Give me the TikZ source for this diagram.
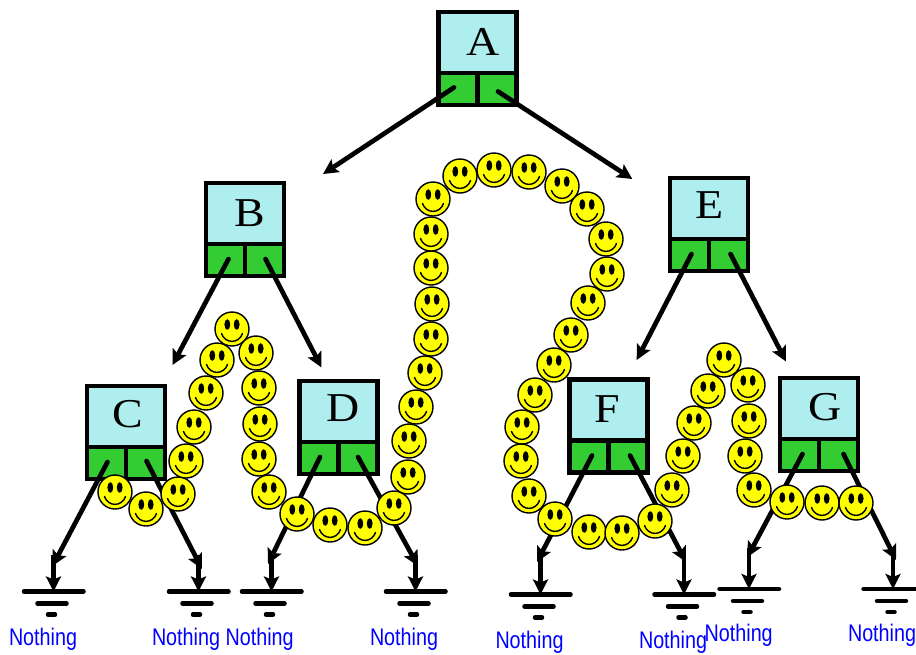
\documentclass[tikz,border=0pt]{standalone}
\usepackage{graphicx}
\usepackage{fontspec}
\setmainfont{Liberation Serif}
\newfontfamily\labelfont{Liberation Sans}
\usetikzlibrary{arrows.meta}
\definecolor{headcyan}{HTML}{AFEEEE}
\definecolor{cellgreen}{HTML}{33CC33}
\definecolor{smileyyellow}{HTML}{FFFF00}
\tikzset{
  headbox/.style={draw=black,line width=4.5pt,fill=headcyan,minimum width=78pt,minimum height=61pt,inner sep=0pt,font=\fontsize{41}{41}\selectfont},
  cellbox/.style={draw=black,line width=4.5pt,fill=cellgreen,minimum width=39pt,minimum height=32pt,inner sep=0pt},
  ptr/.style={draw=black,line width=4.7pt,line cap=round,-{Stealth[length=15pt,width=15pt,inset=3pt]}},
  drop/.style={ptr,line cap=butt},
  groundline/.style={draw=black,line width=4.5pt,line cap=round},
  nothinglabel/.style={text=blue,font=\labelfont\fontsize{24}{24}\selectfont,xscale=.822,transform shape,inner sep=0pt,anchor=base},
}
% name, letter, left, top, letter x offset, letter raise
\newcommand\treebox[6]{%
  \node[headbox] (#1) at (#3+39,#4+30.5) {\hspace*{#5pt}\raisebox{#6pt}{\scalebox{1.12}[1]{#2}}};
  \node[cellbox] (#1l) at (#3+19.5,#4+77) {};
  \node[cellbox] (#1r) at (#3+58.5,#4+77) {};
}
% name, x, y
\newcommand\groundmark[3]{%
  \coordinate (#1) at (#2,#3);
  \draw[groundline] (#2-29.5,#3) -- (#2+30,#3);
  \draw[groundline] (#2-16,#3+12) -- (#2+13,#3+12);
  \draw[groundline] (#2-5.5,#3+23) -- (#2+1.5,#3+23);
}
\newcommand\smiley[2]{%
  \begin{scope}[shift={(#1,#2)}]
    \fill[smileyyellow,draw=black,line width=1.4pt] (0,0) circle (17);
    \fill[black] (-4.7,-4.5) ellipse (2.9 and 5.3);
    \fill[black] (4.7,-4.5) ellipse (2.9 and 5.3);
    \draw[black,line width=1.4pt,line cap=round] (-10.5,4.5) .. controls (-7,15) and (7,15) .. (10.5,4.5);
  \end{scope}
}
\begin{document}
\begin{tikzpicture}[x=1pt,y=-1pt]
\useasboundingbox (0,0) rectangle (916,654);
\treebox{A}{A}{438.5}{12}{12}{1}
\treebox{B}{B}{206}{183}{10}{-1}
\treebox{C}{C}{87}{386}{4}{5}
\treebox{D}{D}{299.5}{381}{10}{6}
\treebox{E}{E}{670}{178}{2}{6}
\treebox{F}{F}{569.5}{379.5}{-2}{2}
\treebox{G}{G}{780}{378}{12}{4}

\groundmark{g1}{53.5}{591.5}
\groundmark{g2}{198.5}{591.5}
\groundmark{g3}{271.5}{591.5}
\groundmark{g4}{415.5}{591.5}
\groundmark{g5}{540.5}{594.5}
\groundmark{g6}{684}{594.5}
\groundmark{g7}{749}{589}
\groundmark{g8}{893}{589}

\coordinate (tAB) at (323,174);
\coordinate (tAE) at (632.3,179);
\coordinate (tBC) at (172.5,365);
\coordinate (tBD) at (321.5,367.5);
\coordinate (tEF) at (636.7,360);
\coordinate (tEG) at (786,361.5);
\coordinate (t1) at (52.5,566);
\coordinate (t2) at (202,569);
\coordinate (t3) at (268,564);
\coordinate (t4) at (418,566);
\coordinate (t5) at (537,562);
\coordinate (t6) at (686,562);
\coordinate (t7) at (747.5,557);
\coordinate (t8) at (896,560);
\coordinate (s1) at (53.5,555);
\coordinate (s2) at (198.5,555);
\coordinate (s3) at (271.5,553);
\coordinate (s4) at (415.5,555);
\coordinate (s5) at (540.5,550);
\coordinate (s6) at (684,550);
\coordinate (s7) at (749,548);
\coordinate (s8) at (893,550);

\draw[ptr] ([shift={(-4,-1.5)}]Al.center) -- (tAB);
\draw[ptr] ([shift={(1,2.5)}]Ar.center) -- (tAE);
\draw[ptr] ([shift={(3,-1)}]Bl.center) -- (tBC);
\draw[ptr] ([shift={(1,-1)}]Br.center) -- (tBD);
\draw[ptr] ([shift={(1,-1)}]Cl.center) -- (t1);
\draw[drop] (s1) -- (g1);
\draw[ptr] ([shift={(1,-2)}]Cr.center) -- (t2);
\draw[drop] (s2) -- (g2);
\draw[ptr] ([shift={(1,-1)}]Dl.center) -- (t3);
\draw[drop] (s3) -- (g3);
\draw[ptr] ([shift={(0,-1)}]Dr.center) -- (t4);
\draw[drop] (s4) -- (g4);
\draw[ptr] ([shift={(2,-1)}]El.center) -- (tEF);
\draw[ptr] ([shift={(2,-1)}]Er.center) -- (tEG);
\draw[ptr] ([shift={(3,-1)}]Fl.center) -- (t5);
\draw[drop] (s5) -- (g5);
\draw[ptr] ([shift={(2,-1)}]Fr.center) -- (t6);
\draw[drop] (s6) -- (g6);
\draw[ptr] ([shift={(3,-1)}]Gl.center) -- (t7);
\draw[drop] (s7) -- (g7);
\draw[ptr] ([shift={(5,-1)}]Gr.center) -- (t8);
\draw[drop] (s8) -- (g8);

\foreach \x/\y in {115/492,146/509,178/494,186/461,194/427,206/393,217/360,232/329,256/353,259/388,260/424,259/459,269/492,297/514,330/525,365/528,394/508,408/477,409/441,416/407,425/373,431/339,432/304,431/268,431/234,433/199,460/176,494/170,529/172,562/186,587/209,606/239,607/274,588/303,571/335,554/365,535/395,522/427,521/461,529/496,555/519,589/532,622/533,655/521,672/490,683/456,694/423,708/391,724/360,748/385,749/421,745/456,754/490,787/502,822/503,856/503}
  {\smiley{\x}{\y}}

\node[nothinglabel] (n1) at (43,645.7) {Nothing};
\node[nothinglabel] (n2) at (186,645.7) {Nothing};
\node[nothinglabel] (n3) at (259.7,645.7) {Nothing};
\node[nothinglabel] (n4) at (404,645.7) {Nothing};
\node[nothinglabel] (n5) at (529.5,648.5) {Nothing};
\node[nothinglabel] (n6) at (673,648.5) {Nothing};
\node[nothinglabel] (n7) at (738.7,641.7) {Nothing};
\node[nothinglabel] (n8) at (882,641.7) {Nothing};
\end{tikzpicture}
\end{document}
